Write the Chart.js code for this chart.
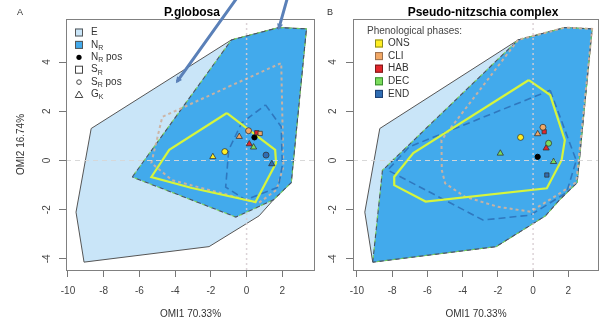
<!DOCTYPE html>
<html><head><meta charset="utf-8">
<script src="https://cdn.jsdelivr.net/npm/chart.js@4"></script>
<style>
html,body{margin:0;padding:0;background:#fff;overflow:hidden;width:602px;height:322px;}
#wrap{position:relative;width:602px;height:322px;overflow:hidden;}
canvas{position:absolute;top:0;}
#cA{left:0}
#cB{left:320px}
</style></head><body>
<div id="wrap"><canvas id="cA" width="320" height="322"></canvas><canvas id="cB" width="284" height="322"></canvas></div>
<script>
// ---------- data ----------
const xTicks = [-10,-8,-6,-4,-2,0,2];
const yTicks = [-4,-2,0,2,4];
const phases = ['ONS','CLI','HAB','DEC','END'];
const phaseColors = ['#ffee22','#f2a865','#e3262b','#7bdc5c','#2f6db3'];

// environment (E) hull, shared by both panels
const envE = [[-9.1,-4.13],[-9.55,-2.1],[-8.7,1.3],[-0.85,4.9],[1.8,5.4],[3.35,5.35],[2.5,-0.9],[1.5,-1.6],[0.7,-2.25],[-2.1,-3.5]];
// realized niche N_R
const nicheA = [[-6.4,-0.67],[-0.85,4.9],[1.8,5.4],[3.35,5.35],[2.5,-0.9],[1.5,-1.6],[-0.6,-2.3]];
const nicheB = [[-9.1,-4.13],[-8.55,-0.4],[-0.85,4.9],[1.8,5.4],[3.35,5.35],[2.5,-0.9],[1.5,-1.6],[0.7,-2.25],[-2.1,-3.5]];
// phase subniches, panel A
const onsA = [[-1.1,1.93],[1.6,0.43],[1.65,-0.1],[0.5,-1.69],[-3.06,-1.12],[-5.33,-0.67],[-4.33,0.43]];
const cliA = [[-1.0,3.0],[1.94,3.96],[2.06,-0.26],[1.67,-1.2],[0.67,-1.73],[-4.17,-0.8],[-5.33,-0.1],[-4.72,1.77]];
const endA = [[1.06,2.26],[1.94,1.37],[2.0,-0.2],[1.78,-1.08],[-0.06,-1.6],[-1.17,-1.08],[-1.0,0.43],[-0.28,1.52]];
const decA = nicheA;
// phase subniches, panel B
const onsB = [[-0.24,3.27],[0.97,2.66],[1.8,0.83],[1.62,0.02],[0.78,-1.13],[-6.1,-1.67],[-7.88,-1.0],[-7.88,-0.66],[-6.8,0.3]];
const cliB = [[-0.85,4.9],[-5.2,0.83],[-5.18,-0.39],[-4.99,-0.93],[-3.87,-1.47],[-2.0,-1.88],[-0.15,-2.08],[1.53,-1.33],[2.45,-0.88],[3.35,5.35],[1.8,5.4]];
const endB = [[0.97,2.85],[2.45,0.0],[1.9,-1.3],[-0.15,-2.22],[-2.85,-2.42],[-8.25,-0.39],[-7.04,0.55]];
const decB = nicheB;
// markers: [x, y, phase index]
const circlesA = [[-1.22,0.36,0],[0.11,1.21,1],[1.09,0.22,4]];
const trianglesA = [[-1.89,0.15,0],[-0.41,0.97,1],[0.15,0.67,2],[0.39,0.54,3],[1.41,-0.14,4]];
const squaresA = [[0.57,1.13,2],[0.76,1.1,1]];
const nrPosA = [[0.44,0.94]];
const circlesB = [[-0.71,0.94,0],[0.56,1.35,1],[0.88,0.7,3]];
const trianglesB = [[-1.86,0.29,3],[0.26,1.08,1],[0.74,0.5,2],[1.16,-0.05,3]];
const squaresB = [[0.63,1.17,2],[0.78,-0.59,4]];
const nrPosB = [[0.26,0.15]];
// annotation arrows (panel A, data units): tailX, tailY, headX, headY
const arrowsA = [[-0.22,6.93,-3.96,3.14],[2.41,6.93,1.78,5.3]];
// axis ranges
const Y_MIN = -4.45, Y_MAX = 5.75;
const X_MIN_A = -10.11, X_MAX_A = 3.83;
const X_MIN_B = -10.22, X_MAX_B = 3.74;

// ---------- styles ----------
const FONT = '"Liberation Sans", Arial, sans-serif';
const C_E = '#c9e5f8', C_N = 'rgb(66,170,236)';
const toXY = a => a.map(p => ({x:p[0], y:p[1]}));
const closed = a => toXY(a.concat([a[0]]));

function polyDS(arr, o) {
  return Object.assign({type:'scatter', data: closed(arr), showLine:true, pointRadius:0, pointHoverRadius:0,
    tension:0, borderWidth:1, fill:false}, o);
}
function markerDS(arr, style, r, order) {
  return {type:'scatter', data: toXY(arr), showLine:false, pointStyle: style, pointRadius: r,
    pointBackgroundColor: arr.map(p => phaseColors[p[2]]), pointBorderColor: 'rgba(50,50,50,0.85)',
    pointBorderWidth: 0.9, order: order};
}

function buildDatasets(env, niche, cli, end, ons, dec, circ, tri, sq, pos, xmin, xmax) {
  return [
    markerDS(circ, 'circle', 3, 0),
    markerDS(tri, 'triangle', 3.6, 0),
    markerDS(sq, 'rect', 3, 0),
    {type:'scatter', data: toXY(pos), pointRadius: 2.6, pointBackgroundColor:'#000', pointBorderColor:'#000', order:0},
    {type:'scatter', data: [{x:xmin,y:0},{x:xmax,y:0}], showLine:true, pointRadius:0, borderColor:'rgba(215,215,215,0.95)', borderWidth:1.2, borderDash:[5,4], order:1},
    {type:'scatter', data: [{x:0,y:Y_MIN},{x:0,y:Y_MAX}], showLine:true, pointRadius:0, borderColor:'rgba(215,205,210,0.9)', borderWidth:1.5, borderDash:[2,3], order:1},
    polyDS(ons, {borderColor:'#d6f53c', borderWidth:2.2, order:2}),
    polyDS(end, {borderColor:'#2f78bf', borderWidth:1.6, borderDash:[7,4], order:3}),
    polyDS(cli, {borderColor:'rgba(205,178,160,0.95)', borderWidth:2, borderDash:[3,3], order:4}),
    polyDS(dec, {borderColor:'rgba(120,210,90,0.9)', borderWidth:1.2, borderDash:[3,5], borderDashOffset:4, order:5}),
    polyDS(niche, {borderColor:'#4a5560', borderWidth:1.1, borderDash:[5,3], fill:'shape', backgroundColor:C_N, order:6}),
    polyDS(env, {borderColor:'#555', borderWidth:1, fill:'shape', backgroundColor:C_E, order:7})
  ];
}

function drawSub(ctx, main, sub, x, y) {
  ctx.font = '10px ' + FONT;
  ctx.fillText(main, x, y);
  const w = ctx.measureText(main).width;
  ctx.font = '7px ' + FONT;
  ctx.fillText(sub, x + w, y + 3);
  return w + ctx.measureText(sub).width;
}

function panelPlugin(p) {
  return {
    id: 'panel' + p.key,
    afterDraw(chart) {
      const ctx = chart.ctx, a = chart.chartArea, ys = chart.scales.y;
      ctx.save();
      // box
      ctx.strokeStyle = '#808080'; ctx.lineWidth = 1;
      ctx.strokeRect(a.left + 0.5, a.top + 0.5, a.right - a.left - 1, a.bottom - a.top);
      // y tick labels (rotated, R style)
      ctx.fillStyle = '#444'; ctx.font = '10px ' + FONT; ctx.textAlign = 'center'; ctx.textBaseline = 'middle';
      for (const v of yTicks) {
        const py = ys.getPixelForValue(v);
        ctx.save(); ctx.translate(p.yLabelX, py); ctx.rotate(-Math.PI/2); ctx.fillText(String(v), 0, 0); ctx.restore();
      }
      // x axis title
      ctx.fillStyle = '#333'; ctx.font = '10px ' + FONT;
      ctx.fillText('OMI1 70.33%', (a.left + a.right) / 2, 314);
      if (p.yTitle) {
        ctx.save(); ctx.translate(21, (a.top + a.bottom) / 2); ctx.rotate(-Math.PI/2);
        ctx.fillText('OMI2 16.74%', 0, 0); ctx.restore();
      }
      // panel title & letter
      ctx.fillStyle = '#000'; ctx.font = 'bold 12px ' + FONT;
      ctx.fillText(p.title, p.titleX, 13);
      ctx.font = '9px ' + FONT; ctx.fillStyle = '#333';
      ctx.fillText(p.letter, p.letterX, 13);
      // legend
      p.legend(ctx);
      // arrows
      if (p.arrows) {
        const xs = chart.scales.x;
        ctx.strokeStyle = '#5a80b8'; ctx.fillStyle = '#5a80b8'; ctx.lineWidth = 3; ctx.lineCap = 'round';
        for (const ar of p.arrows) {
          const x0 = xs.getPixelForValue(ar[0]), y0 = ys.getPixelForValue(ar[1]);
          const x1 = xs.getPixelForValue(ar[2]), y1 = ys.getPixelForValue(ar[3]);
          const ang = Math.atan2(y1 - y0, x1 - x0);
          ctx.beginPath(); ctx.moveTo(x0, y0); ctx.lineTo(x1 - 3 * Math.cos(ang), y1 - 3 * Math.sin(ang)); ctx.stroke();
          ctx.beginPath();
          ctx.moveTo(x1, y1);
          ctx.lineTo(x1 - 7 * Math.cos(ang - 0.45), y1 - 7 * Math.sin(ang - 0.45));
          ctx.lineTo(x1 - 7 * Math.cos(ang + 0.45), y1 - 7 * Math.sin(ang + 0.45));
          ctx.closePath(); ctx.fill();
        }
      }
      ctx.restore();
    }
  };
}

function legendA(ctx) {
  const sx = 79, tx = 91, y0 = 32.5, dy = 12.4;
  ctx.textAlign = 'left'; ctx.textBaseline = 'middle'; ctx.fillStyle = '#333';
  ctx.lineWidth = 1;
  // E
  ctx.fillStyle = C_E; ctx.strokeStyle = '#555';
  ctx.fillRect(sx - 4, y0 - 4, 8, 8); ctx.strokeRect(sx - 4 + 0.5, y0 - 4 + 0.5, 7, 7);
  ctx.fillStyle = '#333'; ctx.font = '10px ' + FONT; ctx.fillText('E', tx, y0);
  // N_R
  let y = y0 + dy;
  ctx.fillStyle = C_N; ctx.fillRect(sx - 4, y - 4, 8, 8); ctx.strokeRect(sx - 4 + 0.5, y - 4 + 0.5, 7, 7);
  ctx.fillStyle = '#333'; drawSub(ctx, 'N', 'R', tx, y);
  // N_R pos
  y += dy;
  ctx.fillStyle = '#000'; ctx.beginPath(); ctx.arc(sx, y, 2.6, 0, Math.PI * 2); ctx.fill();
  ctx.fillStyle = '#333'; let w = drawSub(ctx, 'N', 'R', tx, y); ctx.font = '10px ' + FONT; ctx.fillText(' pos', tx + w, y);
  // S_R
  y += dy;
  ctx.strokeStyle = '#444'; ctx.strokeRect(sx - 4 + 0.5, y - 4 + 0.5, 7, 7);
  drawSub(ctx, 'S', 'R', tx, y);
  // S_R pos
  y += dy;
  ctx.beginPath(); ctx.arc(sx, y, 2.3, 0, Math.PI * 2); ctx.stroke();
  w = drawSub(ctx, 'S', 'R', tx, y); ctx.font = '10px ' + FONT; ctx.fillText(' pos', tx + w, y);
  // G_K
  y += dy;
  ctx.beginPath(); ctx.moveTo(sx, y - 3.5); ctx.lineTo(sx + 3.8, y + 3); ctx.lineTo(sx - 3.8, y + 3); ctx.closePath(); ctx.stroke();
  drawSub(ctx, 'G', 'K', tx, y);
}

function legendB(ctx) {
  const sx = 59, tx = 68, y0 = 43.5, dy = 12.6;
  ctx.textAlign = 'left'; ctx.textBaseline = 'middle'; ctx.font = '10px ' + FONT; ctx.fillStyle = '#444';
  ctx.fillText('Phenological phases:', 47, 31.5);
  const borders = ['#8a8a20','#9a7050','#7a1a1a','#3a8a30','#1d3f70'];
  phases.forEach((ph, i) => {
    const y = y0 + i * dy;
    ctx.fillStyle = phaseColors[i]; ctx.fillRect(sx - 4, y - 4, 8, 8);
    ctx.strokeStyle = borders[i]; ctx.lineWidth = 1; ctx.strokeRect(sx - 4 + 0.5, y - 4 + 0.5, 7, 7);
    ctx.fillStyle = '#333'; ctx.fillText(ph, tx, y);
  });
}

function makeChart(id, datasets, xmin, xmax, yWidth, padRight, plugin) {
  return new Chart(document.getElementById(id), {
    type: 'scatter',
    data: {datasets},
    options: {
      responsive: false, maintainAspectRatio: false, animation: false,
      layout: {padding: {top: 19, right: padRight, left: 0, bottom: 0}},
      plugins: {legend: {display: false}, tooltip: {enabled: false}, title: {display: false}},
      scales: {
        x: {type: 'linear', min: xmin, max: xmax,
          afterBuildTicks: s => { s.ticks = xTicks.map(v => ({value: v})); },
          afterFit: s => { s.height = 52; },
          grid: {display: true, drawOnChartArea: false, drawTicks: true, tickLength: 7, color: '#777'},
          border: {display: false},
          ticks: {autoSkip: false, maxRotation: 0, minRotation: 0, padding: 8, color: '#444',
            font: {size: 10, family: FONT}, callback: v => String(v)}},
        y: {type: 'linear', min: Y_MIN, max: Y_MAX,
          afterBuildTicks: s => { s.ticks = yTicks.map(v => ({value: v})); },
          afterFit: s => { s.width = yWidth; },
          grid: {display: true, drawOnChartArea: false, drawTicks: true, tickLength: 7, color: '#777'},
          border: {display: false},
          ticks: {display: false}}
      }
    },
    plugins: [plugin]
  });
}

makeChart('cA',
  buildDatasets(envE, nicheA, cliA, endA, onsA, decA, circlesA, trianglesA, squaresA, nrPosA, X_MIN_A, X_MAX_A),
  X_MIN_A, X_MAX_A, 66, 3,
  panelPlugin({key:'A', title:'P.globosa', titleX:192, letter:'A', letterX:20, yLabelX:47, yTitle:true, legend:legendA, arrows:arrowsA}));

makeChart('cB',
  buildDatasets(envE, nicheB, cliB, endB, onsB, decB, circlesB, trianglesB, squaresB, nrPosB, X_MIN_B, X_MAX_B),
  X_MIN_B, X_MAX_B, 33, 1,
  panelPlugin({key:'B', title:'Pseudo-nitzschia complex', titleX:163, letter:'B', letterX:10, yLabelX:13, yTitle:false, legend:legendB, arrows:null}));
</script>
</body></html>
